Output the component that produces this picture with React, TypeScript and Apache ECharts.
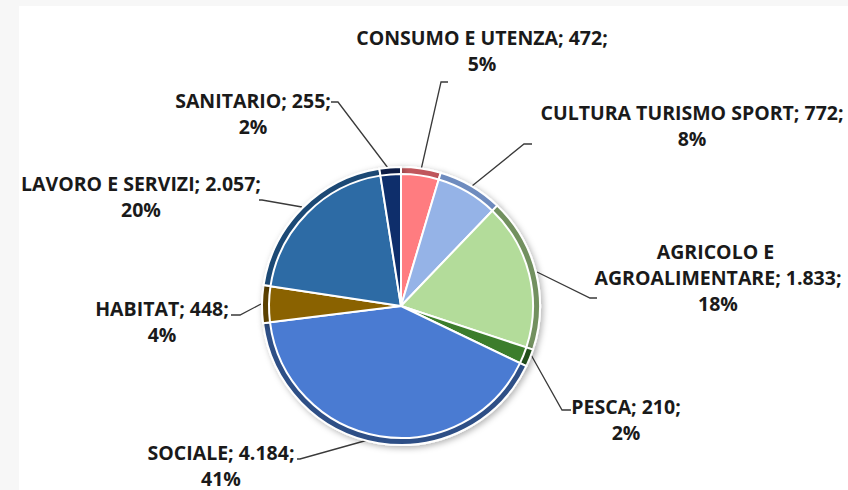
import React, { useEffect, useRef } from "react";
import * as echarts from "echarts";

const categories = [
  "CONSUMO E UTENZA",
  "CULTURA TURISMO SPORT",
  "AGRICOLO E AGROALIMENTARE",
  "PESCA",
  "SOCIALE",
  "HABITAT",
  "LAVORO E SERVIZI",
  "SANITARIO",
];
const values = [472, 772, 1833, 210, 4184, 448, 2057, 255];

const mainColors = ["#FF7C80", "#95B3E7", "#B3DC9A", "#3C7D2C", "#4A7BD2", "#8A6200", "#2D6BA5", "#0E2E6B"];
const rimColors = ["#C0575B", "#6E8BBE", "#72905F", "#23501A", "#2E4F86", "#5A3F00", "#1D4A74", "#071C44"];

// label layout (centre of label block) and leader line points, in pixels
const labelPos: [number, number][] = [
  [482, 50],
  [692, 125],
  [718, 277],
  [626, 419],
  [221, 465],
  [162, 321],
  [141, 196],
  [253, 113],
];
const linePts: [number, number][][] = [
  [[421, 170], [441, 82], [448, 82]],
  [[472, 186], [524, 144], [532, 144]],
  [[537, 272], [590, 298], [597, 298]],
  [[530, 353], [562, 410], [571, 410]],
  [[375, 438], [300, 459], [297, 459]],
  [[261, 304], [240, 315], [231, 315]],
  [[302, 207], [262, 200], [259, 200]],
  [[388, 168], [338, 102], [331, 102]],
];

const fmt = (v: number) => String(v).replace(/\B(?=(\d{3})+(?!\d))/g, ".");

export default function App() {
  const ref = useRef<HTMLDivElement>(null);
  useEffect(() => {
    if (!ref.current) return;
    const chart = echarts.init(ref.current, undefined, { renderer: "svg" });
    const center = [401, 306];
    chart.setOption({
      animation: false,
      backgroundColor: "#f7f7f7",
      graphic: [
        { type: "rect", z: -10, shape: { x: 19, y: 6, width: 829, height: 484 }, style: { fill: "#ffffff" } },
      ],
      series: [
        {
          type: "pie",
          center,
          radius: [0, 139],
          startAngle: 90,
          clockwise: true,
          avoidLabelOverlap: false,
          itemStyle: {
            borderColor: "#ffffff",
            borderWidth: 2,
            shadowBlur: 6,
            shadowOffsetX: 2,
            shadowOffsetY: 2,
            shadowColor: "rgba(0,0,0,0.3)",
          },
          emphasis: { disabled: true },
          label: {
            show: true,
            position: "outside",
            fontFamily: "Open Sans",
            fontWeight: "bold",
            fontSize: 19.5,
            lineHeight: 26,
            color: "#1a1a1a",
            align: "center",
            formatter: (p: any) => `${p.name}; ${fmt(p.value)};\n${Math.round(p.percent)}%`,
          },
          labelLine: { show: true, lineStyle: { color: "#3a3a3a", width: 1.3 } },
          labelLayout: (p: any) => ({
            x: labelPos[p.dataIndex][0],
            y: labelPos[p.dataIndex][1],
            align: "center",
            verticalAlign: "middle",
            labelLinePoints: linePts[p.dataIndex],
          }),
          data: categories.map((name, i) => ({
            name,
            value: values[i],
            itemStyle: { color: rimColors[i] },
            label: i === 2 ? { width: 280, overflow: "break" } : undefined,
          })),
        },
        {
          type: "pie",
          center,
          radius: [0, 132],
          startAngle: 90,
          clockwise: true,
          silent: true,
          label: { show: false },
          labelLine: { show: false },
          itemStyle: { borderColor: "#ffffff", borderWidth: 2 },
          data: categories.map((name, i) => ({
            name,
            value: values[i],
            itemStyle: { color: mainColors[i] },
          })),
        },
      ],
    });
    return () => chart.dispose();
  }, []);
  return (
    <div
      ref={ref}
      style={{ position: "absolute", left: 0, top: 0, width: 848, height: 490 }}
    />
  );
}
